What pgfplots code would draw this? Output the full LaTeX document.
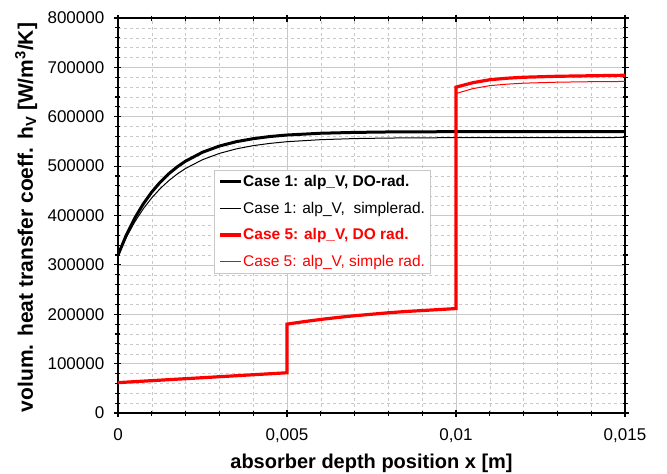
\documentclass[border=0pt]{standalone}
\usepackage{pgfplots}
\pgfplotsset{compat=1.18}
\usepackage{fontspec}
\setmainfont{Liberation Sans}
\definecolor{gridgray}{RGB}{200,200,200}
\begin{document}
\begin{tikzpicture}[x=1bp,y=1bp]
\begin{axis}[
  scale only axis,
  width=507bp, height=395bp,
  xmin=0, xmax=0.015, ymin=0, ymax=800000,
  xtick={0,0.005,0.01,0.015},
  xticklabels={0,{0,005},{0,01},{0,015}},
  minor x tick num=4,
  ytick={0,100000,200000,300000,400000,500000,600000,700000,800000},
  yticklabels={0,100000,200000,300000,400000,500000,600000,700000,800000},
  minor y tick num=4,
  grid=both,
  major grid style={gridgray, line width=0.6bp},
  minor grid style={gridgray, dashed, line width=0.5bp},
  axis line style={line width=1.6bp},
  tick style={black, line width=1.2bp},
  tick align=center,
  major tick length=7bp, minor tick length=5bp,
  scaled x ticks=false, scaled y ticks=false,
  ticklabel style={font=\fontsize{17bp}{19bp}\selectfont, inner sep=0pt},
  xticklabel style={anchor=base, yshift=-24bp},
  yticklabel style={anchor=east, xshift=-10bp},
  xlabel={\textbf{absorber depth position x [m]}},
  ylabel={\textbf{volum. heat transfer coeff. h\textsubscript{V} [W/m\textsuperscript{3}/K]}},
  xlabel style={font=\fontsize{20bp}{22bp}\selectfont, at={(axis description cs:0.5,0)}, anchor=base, yshift=-55bp, inner sep=0pt},
  ylabel style={font=\fontsize{21bp}{23bp}\selectfont, at={(axis description cs:0,0.495)}, anchor=base, yshift=85bp, inner sep=0pt},
  legend style={at={(0.189,0.615)}, anchor=north west, draw=gridgray, fill=white,
    font=\fontsize{15.5bp}{18bp}\selectfont, inner sep=4bp, row sep=12bp,
    nodes={inner sep=1bp}},
  legend cell align=left,
  legend image code/.code={\draw[#1] (0bp,0bp) -- (21bp,0bp);},
]
\addplot[black, line width=3bp] coordinates {
(0,320000) (0.00025,360900) (0.0005,395100) (0.00075,423700) (0.001,447600)
(0.00125,467600) (0.0015,484400) (0.00175,498400) (0.002,510100) (0.0025,528100)
(0.003,540700) (0.0035,549500) (0.004,555600) (0.0045,560000) (0.005,563000)
(0.006,566600) (0.007,568300) (0.008,569200) (0.01,569800) (0.015,570000)};
\addlegendentry{\textbf{Case 1: alp\_V, DO-rad.}}
\addplot[black, line width=1bp] coordinates {
(0,320000) (0.00025,356500) (0.0005,387500) (0.00075,413700) (0.001,435800)
(0.00125,454600) (0.0015,470400) (0.00175,483900) (0.002,495300) (0.0025,513000)
(0.003,525800) (0.0035,534900) (0.004,541500) (0.0045,546100) (0.005,549500)
(0.006,553600) (0.007,555800) (0.008,556900) (0.01,557700) (0.015,558000)};
\addlegendentry{Case 1: alp\_V,\ \ simplerad.}
\addplot[red, line width=3.2bp] coordinates {
(0,61500) (0.005,81500) (0.005,180000) (0.0055,185000) (0.006,189500) (0.0065,193500)
(0.007,197000) (0.0075,200000) (0.008,203000) (0.0085,205500) (0.009,207500)
(0.0095,209500) (0.01,211500) (0.01,660000) (0.0105,669000) (0.011,675000)
(0.0115,678000) (0.012,680000) (0.013,682000) (0.014,683000) (0.015,684000)};
\addlegendentry{\textcolor{red}{\textbf{Case 5: alp\_V, DO rad.}}}
\addplot[red, line width=1bp] coordinates {
(0,61500) (0.005,81500) (0.005,180000) (0.0055,185000) (0.006,189500) (0.0065,193500)
(0.007,197000) (0.0075,200000) (0.008,203000) (0.0085,205500) (0.009,207500)
(0.0095,209500) (0.01,211500) (0.01,647000) (0.0105,657000) (0.011,663000)
(0.0115,666000) (0.012,668000) (0.013,670000) (0.014,671000) (0.015,671500)};
\addlegendentry{\textcolor{red}{Case 5: alp\_V, simple rad.}}
\end{axis}
\pgfresetboundingbox
\path (current axis.south west) ++(-118bp,-61bp) rectangle ++(667bp,474bp);
\end{tikzpicture}
\end{document}
